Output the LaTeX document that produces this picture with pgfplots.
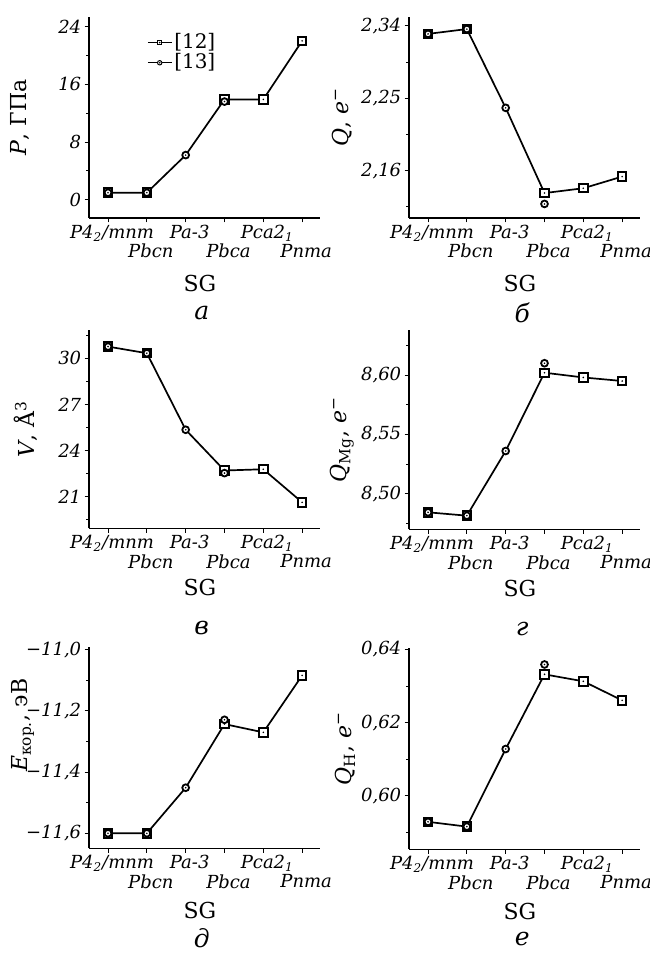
\documentclass[border=0pt]{standalone}
\usepackage{fontspec}
\setmainfont{DejaVu Serif}
\usepackage{pgfplots}
\pgfplotsset{compat=1.18}

\pgfdeclareplotmark{sqdot}{%
  \pgfpathrectangle{\pgfqpoint{-\pgfplotmarksize}{-\pgfplotmarksize}}{\pgfqpoint{2\pgfplotmarksize}{2\pgfplotmarksize}}%
  \pgfusepathqfillstroke
  \pgfscope\pgfsetfillcolor{black}%
  \pgfpathcircle{\pgfpointorigin}{0.45pt}%
  \pgfusepathqfill\endpgfscope}
\pgfdeclareplotmark{cidot}{%
  \pgfpathcircle{\pgfpointorigin}{\pgfplotmarksize}%
  \pgfusepathqfillstroke
  \pgfscope\pgfsetfillcolor{black}%
  \pgfpathcircle{\pgfpointorigin}{0.45pt}%
  \pgfusepathqfill\endpgfscope}

\newcommand{\tl}{\fontsize{9}{11}\selectfont}
\tikzset{lett/.style={font=\fontsize{12.5}{14}\selectfont\itshape, anchor=center}}

\pgfplotsset{
  panel/.style={
    scale only axis, width=115.5pt, clip=false,
    axis lines=left, axis line style={-, line width=0.55pt, black},
    xmin=-0.49, xmax=5.46,
    xtick={0,2,4},
    xticklabels={{\textit{P4}\textsubscript{\textit{2}}\textit{/mnm}}, {\textit{Pa-3}}, {\textit{Pca2}\textsubscript{\textit{1}}}},
    extra x ticks={1,3,5},
    extra x tick labels={\textit{Pbcn},\textit{Pbca},\textit{Pnma}},
    extra x tick style={xticklabel style={yshift=-9.5pt}},
    tick align=outside, major tick length=2.2pt, minor tick length=1.4pt,
    tick style={black, line width=0.5pt},
    xticklabel style={font=\tl, inner sep=1.2pt, xshift=2pt},
    yticklabel style={font=\tl\itshape, inner sep=1.5pt},
    xlabel={SG},
    xlabel style={font=\fontsize{11}{12}\selectfont, at={(axis description cs:0.48,0)}, anchor=center},
    ylabel style={font=\fontsize{11}{12}\selectfont, anchor=center},
  },
  lin/.style={black, line width=0.85pt, no marks},
  sq/.style={only marks, mark=sqdot, mark size=2.1pt, mark options={fill=white, draw=black, line width=1pt}},
  ci/.style={only marks, mark=cidot, mark size=1.7pt, mark options={fill=white, draw=black, line width=0.9pt}},
}

\begin{document}
\begin{tikzpicture}
\path[use as bounding box] (0,0) rectangle (324.5pt,477pt);

% ---------- a ----------
\begin{axis}[panel, at={(44.5pt,368pt)}, anchor=south west, height=100.5pt,
  ymin=-2.5, ymax=25.3, ytick={0,8,16,24}, yticklabels={0,8,16,24}, minor ytick={4,12,20},
  ylabel={\textit{P}, ГПа}, ylabel style={at={(axis description cs:-0.30,0.5)}},
  xlabel style={yshift=-32.5pt},
  legend image code/.code={\draw[mark repeat=2,mark phase=2,#1] plot coordinates {(0cm,0cm) (0.21cm,0cm) (0.42cm,0cm)};},
  legend cell align=left,
  legend style={at={(axis description cs:0.25,0.93)}, anchor=north west, draw=none, fill=none,
    font=\fontsize{10}{11}\selectfont, inner sep=0pt, row sep=-1pt, nodes={inner sep=1pt}}]
\addlegendimage{black, line width=0.6pt, mark=sqdot, mark size=1.1pt, mark options={fill=white, line width=0.5pt}}
\addlegendentry{[12]}
\addlegendimage{black, line width=0.6pt, mark=cidot, mark size=1.1pt, mark options={fill=white, line width=0.5pt}}
\addlegendentry{[13]}
\addplot[lin, forget plot] coordinates {(0,1.0)(1,1.0)(2,6.2)(3,13.9)(4,13.9)(5,22.0)};
\addplot[sq, forget plot] coordinates {(0,1.0)(1,1.0)(3,13.9)(4,13.9)(5,22.0)};
\addplot[ci, forget plot] coordinates {(0,1.0)(1,1.0)(2,6.2)(3,13.6)};
\node[lett, yshift=-47.5pt] at (axis description cs:0.488,0) {а};
\end{axis}

% ---------- b ----------
\begin{axis}[panel, at={(204.5pt,368pt)}, anchor=south west, height=100.5pt,
  ymin=2.101, ymax=2.351, ytick={2.16,2.25,2.34}, yticklabels={{2,16},{2,25},{2,34}}, minor ytick={2.115,2.205,2.295},
  ylabel={\textit{Q}, \textit{e}\textsuperscript{−}}, ylabel style={at={(axis description cs:-0.29,0.5)}},
  xlabel style={yshift=-32.5pt}]
\addplot[lin] coordinates {(0,2.330)(1,2.336)(2,2.238)(3,2.132)(4,2.138)(5,2.1525)};
\addplot[sq] coordinates {(0,2.330)(1,2.336)(3,2.132)(4,2.138)(5,2.1525)};
\addplot[ci] coordinates {(0,2.330)(1,2.336)(2,2.238)(3,2.1185)};
\node[lett, yshift=-47.5pt] at (axis description cs:0.49,0) {б};
\end{axis}

% ---------- v ----------
\begin{axis}[panel, at={(44.5pt,212.85pt)}, anchor=south west, height=99.15pt,
  ymin=18.94, ymax=31.84, ytick={21,24,27,30}, yticklabels={21,24,27,30}, minor ytick={19.5,22.5,25.5,28.5,31.5},
  ylabel={\textit{V}, Å\textsuperscript{3}}, ylabel style={at={(axis description cs:-0.274,0.5)}},
  xlabel style={yshift=-29.5pt}]
\addplot[lin] coordinates {(0,30.76)(1,30.33)(2,25.35)(3,22.70)(4,22.78)(5,20.63)};
\addplot[sq] coordinates {(0,30.76)(1,30.33)(3,22.70)(4,22.78)(5,20.63)};
\addplot[ci] coordinates {(0,30.76)(1,30.33)(2,25.35)(3,22.53)};
\node[lett, yshift=-50pt] at (axis description cs:0.488,0) {в};
\end{axis}

% ---------- g ----------
\begin{axis}[panel, at={(204.5pt,212.35pt)}, anchor=south west, height=99.65pt,
  ymin=8.470, ymax=8.638, ytick={8.50,8.55,8.60}, yticklabels={{8,50},{8,55},{8,60}}, minor ytick={8.475,8.525,8.575,8.625},
  ylabel={\textit{Q}\textsubscript{Mg}, \textit{e}\textsuperscript{−}}, ylabel style={at={(axis description cs:-0.29,0.45)}},
  xlabel style={yshift=-29.5pt}]
\addplot[lin] coordinates {(0,8.4843)(1,8.4815)(2,8.536)(3,8.602)(4,8.598)(5,8.595)};
\addplot[sq] coordinates {(0,8.4843)(1,8.4815)(3,8.602)(4,8.598)(5,8.595)};
\addplot[ci] coordinates {(0,8.4843)(1,8.4815)(2,8.536)(3,8.610)};
\node[lett, yshift=-50pt] at (axis description cs:0.49,0) {г};
\end{axis}

% ---------- d ----------
\begin{axis}[panel, at={(44.5pt,52.85pt)}, anchor=south west, height=100.8pt,
  ymin=-11.649, ymax=-10.99, ytick={-11.6,-11.4,-11.2,-11.0}, yticklabels={{−11,6},{−11,4},{−11,2},{−11,0}}, minor ytick={-11.5,-11.3,-11.1},
  ylabel={\textit{E}\textsubscript{кор.}, эВ}, ylabel style={at={(axis description cs:-0.286,0.61)}},
  xlabel style={yshift=-31pt}]
\addplot[lin] coordinates {(0,-11.6)(1,-11.6)(2,-11.451)(3,-11.243)(4,-11.27)(5,-11.084)};
\addplot[sq] coordinates {(0,-11.6)(1,-11.6)(3,-11.243)(4,-11.27)(5,-11.084)};
\addplot[ci] coordinates {(0,-11.6)(1,-11.6)(2,-11.451)(3,-11.229)};
\node[lett, yshift=-45pt] at (axis description cs:0.488,0) {д};
\end{axis}

% ---------- e ----------
\begin{axis}[panel, at={(204.5pt,52.35pt)}, anchor=south west, height=100.65pt,
  ymin=0.5854, ymax=0.6404, ytick={0.60,0.62,0.64}, yticklabels={{0,60},{0,62},{0,64}}, minor ytick={0.59,0.61,0.63},
  ylabel={\textit{Q}\textsubscript{H}, \textit{e}\textsuperscript{−}}, ylabel style={at={(axis description cs:-0.277,0.5)}},
  xlabel style={yshift=-31pt}]
\addplot[lin] coordinates {(0,0.5929)(1,0.5916)(2,0.6128)(3,0.6332)(4,0.6313)(5,0.6261)};
\addplot[sq] coordinates {(0,0.5929)(1,0.5916)(3,0.6332)(4,0.6313)(5,0.6261)};
\addplot[ci] coordinates {(0,0.5929)(1,0.5916)(2,0.6128)(3,0.6359)};
\node[lett, yshift=-45pt] at (axis description cs:0.49,0) {е};
\end{axis}
\end{tikzpicture}
\end{document}
